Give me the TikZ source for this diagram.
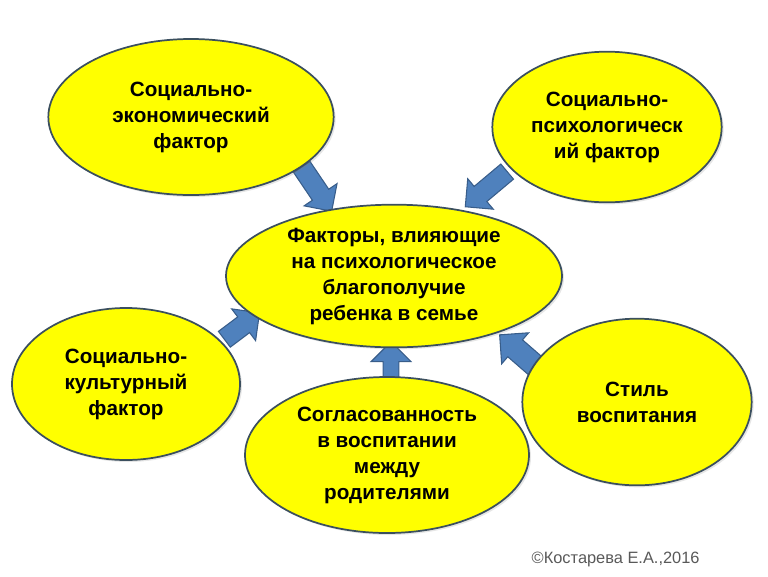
\documentclass[tikz,border=0pt]{standalone}
\usepackage{fontspec}
\setmainfont{Liberation Sans}
\usepackage{tikz}
\usetikzlibrary{shapes.geometric, shapes.arrows, shadows, positioning}

\definecolor{factoryellow}{HTML}{FFFF00}
\definecolor{factoredge}{HTML}{3B4F5E}
\definecolor{arrowblue}{HTML}{4F81BD}
\definecolor{arrowedge}{HTML}{385D8A}

\begin{document}
\begin{tikzpicture}[
    x=0.75pt, y=-0.75pt,
    factor/.style={ellipse, draw=factoredge, line width=1.3pt, fill=factoryellow, inner sep=0pt,
        align=center, font=\fontsize{15.5}{19.5}\selectfont\bfseries,
        execute at begin node={\rule{0pt}{17.5pt}},
        drop shadow={opacity=0.2, shadow xshift=1.5pt, shadow yshift=-1.5pt}},
    blockarr/.style={single arrow, draw=arrowedge, line width=0.8pt, fill=arrowblue, inner sep=7pt,
        single arrow head extend=7.5pt, single arrow head indent=0pt},
]
    \useasboundingbox (0,0) rectangle (768,576);

    % arrows first, the ellipses cover their ends
    \node[blockarr, minimum height=40pt, rotate=-56] (arrse) at (314,185) {};
    \node[blockarr, minimum height=41pt, rotate=220] (arrsp) at (490,186) {};
    \node[blockarr, minimum height=33pt, rotate=37] (arrsc) at (238,329) {};
    \node[blockarr, minimum height=29pt, rotate=90, inner sep=5.5pt, single arrow head extend=9pt] (arrsog) at (391,365) {};
    \node[blockarr, minimum height=40pt, rotate=139, inner sep=8pt, single arrow head extend=7pt] (arrstyle) at (524,356) {};

    \node[factor, minimum width=214pt, minimum height=117pt] (econ) at (191,117) {Социально-\\экономический\\фактор};
    \node[factor, minimum width=172pt, minimum height=113pt] (psych) at (607,127) {Социально-\\психологическ\\ий фактор};
    \node[factor, minimum width=252pt, minimum height=107pt] (main) at (394,276) {Факторы, влияющие\\на психологическое\\благополучие\\ребенка в семье};
    \node[factor, minimum width=171pt, minimum height=114pt] (cult) at (126,384) {Социально-\\культурный\\фактор};
    \node[factor, minimum width=213pt, minimum height=117pt] (agree) at (387,455) {Согласованность\\в воспитании\\между\\родителями};
    \node[factor, minimum width=172pt, minimum height=125pt] (style) at (637,402) {Стиль\\воспитания};

    \node[text=black!65, font=\fontsize{12.3}{14}\selectfont, anchor=west] (copy) at (527,559) {©Костарева Е.А.,2016};
\end{tikzpicture}
\end{document}
